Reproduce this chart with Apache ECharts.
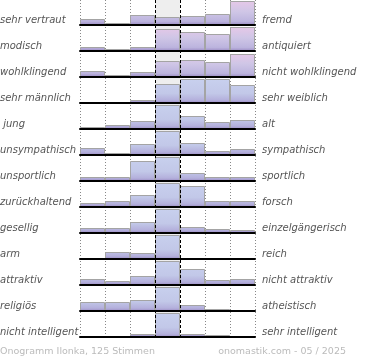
<!DOCTYPE html>
<html><head><meta charset="utf-8">
<script src="https://cdn.jsdelivr.net/npm/echarts@6/dist/echarts.min.js"></script>
<style>html,body{margin:0;padding:0;background:#fff}#c{width:370px;height:360px}</style>
</head><body><div id="c"></div>
<script>
const categories = ['1','2','3','4','5','6','7'];
const leftLabels = ['sehr vertraut','modisch','wohlklingend','sehr männlich',' jung','unsympathisch','unsportlich','zurückhaltend','gesellig','arm','attraktiv','religiös','nicht intelligent'];
const rightLabels = ['fremd','antiquiert','nicht wohlklingend','sehr weiblich','alt','sympathisch','sportlich','forsch','einzelgängerisch','reich','nicht attraktiv','atheistisch','sehr intelligent'];
const rowValues = [
  [6,2,10,8,9,11,24],
  [4,2,4,22,19,17,24],
  [6,2,5,16,17,15,23],
  [0.3,0.3,3,19,24,24,18],
  [2,4,8,24,13,7,9],
  [7,2,11,24,12,4,6],
  [4,4,20,24,8,4,4],
  [4,6,12,24,21,6,6],
  [5,5,11,24,6,4,3],
  [0.3,7,6,24,0,1,1],
  [6,4,9,24,16,5,6],
  [9,9,11,24,6,2,1],
  [1,1,3,24,3,2,1]
];
const footerLeft = 'Onogramm Ilonka, 125 Stimmen';
const footerRight = 'onomastik.com - 05 / 2025';

const L = 80, W = 175, ROWH = 26, BARH = 24, TOP0 = 1;
const grids = [], xAxes = [], yAxes = [], series = [], graphics = [];
const font = 'DejaVu Sans';

graphics.push({type:'rect', z:-10, shape:{x:L+3*W/7, y:0, width:W/7, height:TOP0+ROWH*12+BARH}, style:{fill:'#eeeeee'}});
[0,1,2,5,6,7].forEach(k=>{
  const x = Math.round(L + k*W/7) + 0.5;
  graphics.push({type:'line', z:-5, shape:{x1:x,y1:0,x2:x,y2:339}, style:{stroke:'#888', lineWidth:1, lineDash:[1,2]}});
});

rowValues.forEach((vals, i) => {
  const top = TOP0 + i*ROWH;
  const pinkish = i < 3;
  grids.push({left:L, top:top, width:W, height:BARH, containLabel:false});
  xAxes.push({type:'category', gridIndex:i, data:categories, boundaryGap:true, z:5,
    axisLine:{show:true, lineStyle:{color:'#000', width:2}}, axisTick:{show:false}, axisLabel:{show:false}, splitLine:{show:false}});
  yAxes.push({type:'value', gridIndex:i, min:0, max:24, show:false, splitLine:{show:false}});
  const stops = pinkish ?
    [{offset:0,color:'#e6c8e8'},{offset:0.45,color:'#cfc6e6'},{offset:0.85,color:'#bcb4de'},{offset:1,color:'#9c8cc4'}] :
    [{offset:0,color:'#c8d0ee'},{offset:0.6,color:'#c2c8e8'},{offset:0.88,color:'#b4b0dc'},{offset:1,color:'#9c8cc4'}];
  series.push({type:'bar', xAxisIndex:i, yAxisIndex:i, data:vals, barWidth:'100%', barGap:'0%', barCategoryGap:'0%', z:2,
    silent:true, animation:false,
    itemStyle:{color:new echarts.graphic.LinearGradient(0, top, 0, top+BARH, stops, true), borderColor:'#a4a4a4', borderWidth:1}});
  const cy = top + BARH - 4.5;
  graphics.push({type:'text', z:10, x:0, y:cy, style:{text:leftLabels[i], font:'italic 10px '+font, fill:'#555', textVerticalAlign:'middle', textAlign:'left'}});
  graphics.push({type:'text', z:10, x:262, y:cy, style:{text:rightLabels[i], font:'italic 10px '+font, fill:'#555', textVerticalAlign:'middle', textAlign:'left'}});
});

[3,4].forEach(k=>{
  const x = Math.round(L + k*W/7) + 0.5;
  graphics.push({type:'line', z:20, shape:{x1:x,y1:0,x2:x,y2:338}, style:{stroke:'#000', lineWidth:1, lineDash:[3,2]}});
});
graphics.push({type:'text', z:10, x:0, y:352, style:{text:footerLeft, font:'9.5px '+font, fill:'#bbb', textVerticalAlign:'middle', textAlign:'left'}});
graphics.push({type:'text', z:10, x:346, y:352, style:{text:footerRight, font:'9.5px '+font, fill:'#bbb', textVerticalAlign:'middle', textAlign:'right'}});

const chart = echarts.init(document.getElementById('c'), null, {renderer:'canvas'});
chart.setOption({animation:false, grid:grids, xAxis:xAxes, yAxis:yAxes, series:series, graphic:{elements:graphics}});
</script></body></html>
